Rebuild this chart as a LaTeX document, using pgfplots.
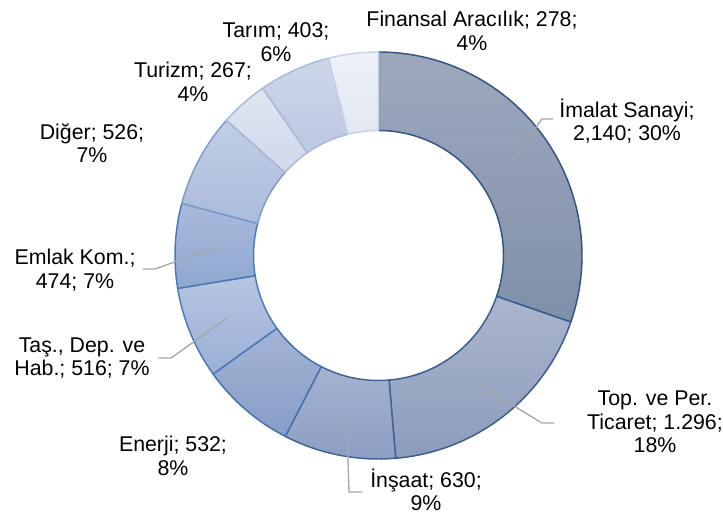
\documentclass[border=0pt]{standalone}
\usepackage{pgfplots}
\pgfplotsset{compat=1.18}
\usepackage{pgfplotstable}
\usepackage{fontspec}
\setmainfont{Liberation Sans}

\definecolor{top0}{HTML}{9DA8BC}\definecolor{bot0}{HTML}{808FA9}\definecolor{bd0}{HTML}{2E5586}
\definecolor{top1}{HTML}{AAB5CD}\definecolor{bot1}{HTML}{8D9CBB}\definecolor{bd1}{HTML}{385D90}
\definecolor{top2}{HTML}{A5B3D0}\definecolor{bot2}{HTML}{8B9DC2}\definecolor{bd2}{HTML}{3D6399}
\definecolor{top3}{HTML}{A3B3D4}\definecolor{bot3}{HTML}{879DC8}\definecolor{bd3}{HTML}{4370AE}
\definecolor{top4}{HTML}{B6C5E2}\definecolor{bot4}{HTML}{9BAFD5}\definecolor{bd4}{HTML}{4A79B7}
\definecolor{top5}{HTML}{A9BADC}\definecolor{bot5}{HTML}{8FA7D0}\definecolor{bd5}{HTML}{4A79B7}
\definecolor{top6}{HTML}{C2CEE6}\definecolor{bot6}{HTML}{ABBBDC}\definecolor{bd6}{HTML}{7C9CCC}
\definecolor{top7}{HTML}{DFE5F0}\definecolor{bot7}{HTML}{D0D8EA}\definecolor{bd7}{HTML}{A9B9D8}
\definecolor{top8}{HTML}{CDD6E9}\definecolor{bot8}{HTML}{BCC8E1}\definecolor{bd8}{HTML}{A9B9D8}
\definecolor{top9}{HTML}{EEF1F7}\definecolor{bot9}{HTML}{E2E7F2}\definecolor{bd9}{HTML}{C8D2E5}
\definecolor{leader}{HTML}{A6A6A6}

% Sector values (clockwise from 12 o'clock)
\pgfplotstableread{
value
2140
1296
630
532
516
474
526
267
403
278
}\slices

% total
\xdef\total{0}
\foreach \i in {0,...,9}{%
  \pgfplotstablegetelem{\i}{value}\of\slices
  \pgfmathsetmacro\tmp{\total+\pgfplotsretval}%
  \xdef\total{\tmp}%
}
% angles
\xdef\cum{0}
\foreach \i in {0,...,9}{%
  \pgfplotstablegetelem{\i}{value}\of\slices
  \pgfmathsetmacro\s{90-360*(\cum/\total)}%
  \pgfmathsetmacro\c{\cum+\pgfplotsretval}%
  \xdef\cum{\c}%
  \pgfmathsetmacro\e{90-360*(\cum/\total)}%
  \pgfmathsetmacro\m{(\s+\e)/2}%
  \expandafter\xdef\csname sa\i\endcsname{\s}%
  \expandafter\xdef\csname ea\i\endcsname{\e}%
  \expandafter\xdef\csname ma\i\endcsname{\m}%
}

\begin{document}
\begin{tikzpicture}
\begin{axis}[x=0.75pt, y=0.75pt, xmin=0, xmax=723, ymin=0, ymax=515,
  hide axis, clip=false, scale only axis]
\path (rel axis cs:0,0) rectangle (rel axis cs:1,1);
\pgfplotsinvokeforeach{0,...,9}{
  \path[top color=top#1, bottom color=bot#1, draw=bd#1, line width=1.1pt, line join=round]
   (axis cs:{378.5+203.5*cos(\csname sa#1\endcsname)},{259.5+203.5*sin(\csname sa#1\endcsname)})
   arc[start angle=\csname sa#1\endcsname, end angle=\csname ea#1\endcsname, radius=152.625pt]
   -- (axis cs:{378.5+125*cos(\csname ea#1\endcsname)},{259.5+125*sin(\csname ea#1\endcsname)})
   arc[start angle=\csname ea#1\endcsname, end angle=\csname sa#1\endcsname, radius=93.75pt]
   -- cycle;
}
% leader lines
\draw[leader, line width=1pt] (axis cs:{378.5+164*cos(\csname ma0\endcsname)},{259.5+164*sin(\csname ma0\endcsname)}) -- (axis cs:542,396) -- (axis cs:553,396);
\draw[leader, line width=1pt] (axis cs:{378.5+164*cos(\csname ma1\endcsname)},{259.5+164*sin(\csname ma1\endcsname)}) -- (axis cs:542,92) -- (axis cs:554,92);
\draw[leader, line width=1pt] (axis cs:{378.5+164*cos(\csname ma2\endcsname)},{259.5+164*sin(\csname ma2\endcsname)}) -- (axis cs:349,23) -- (axis cs:362,23);
\draw[leader, line width=1pt] (axis cs:{378.5+164*cos(\csname ma4\endcsname)},{259.5+164*sin(\csname ma4\endcsname)}) -- (axis cs:171,157) -- (axis cs:158,157);
\draw[leader, line width=1pt] (axis cs:{378.5+164*cos(\csname ma5\endcsname)},{259.5+164*sin(\csname ma5\endcsname)}) -- (axis cs:155,246) -- (axis cs:143,246);
% labels
\tikzset{lbl/.style={font=\fontsize{16}{17.6}\selectfont, align=center, inner sep=0pt, text=black}}
\node[lbl] at (axis cs:472,484) {Finansal Aracılık; 278;\\4\%};
\node[lbl] at (axis cs:627,394) {İmalat Sanayi;\\2,140; 30\%};
\node[lbl] at (axis cs:655,93) {Top. ve Per.\\Ticaret; 1.296;\\18\%};
\node[lbl] at (axis cs:426,25) {İnşaat; 630;\\9\%};
\node[lbl] at (axis cs:173,59) {Enerji; 532;\\8\%};
\node[lbl] at (axis cs:82,157) {Taş., Dep. ve\\Hab.; 516; 7\%};
\node[lbl] at (axis cs:75,245) {Emlak Kom.;\\474; 7\%};
\node[lbl] at (axis cs:92,372) {Diğer; 526;\\7\%};
\node[lbl] at (axis cs:193,433) {Turizm; 267;\\4\%};
\node[lbl] at (axis cs:276,473) {Tarım; 403;\\6\%};
\end{axis}
\end{tikzpicture}
\end{document}
